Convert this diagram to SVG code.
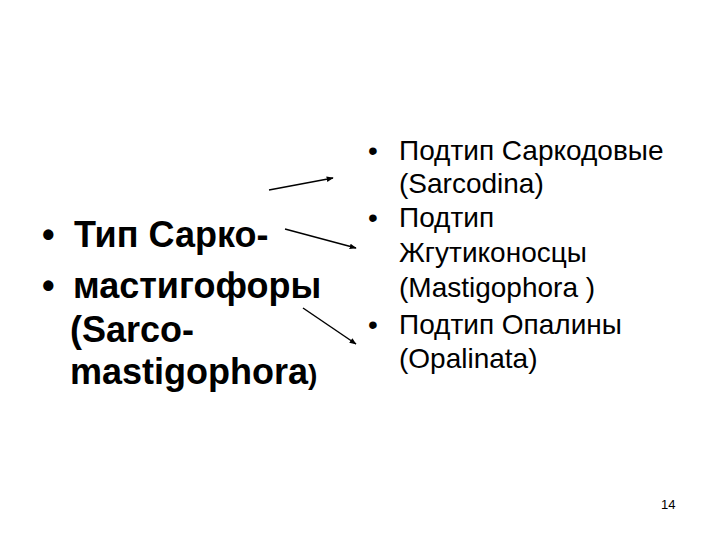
<svg xmlns="http://www.w3.org/2000/svg" width="720" height="540" viewBox="0 0 720 540">
<defs>
<style>
.l{font-family:"Liberation Sans",Arial,sans-serif;font-size:36px;font-weight:bold;fill:#000}
.r{font-family:"Liberation Sans",Arial,sans-serif;font-size:28px;fill:#000}
.c{stroke:#000;stroke-width:1.5;fill:none;marker-end:url(#ah)}
</style>
<marker id="ah" viewBox="0 0 10 10" refX="9" refY="5" markerWidth="7" markerHeight="7" orient="auto" markerUnits="userSpaceOnUse"><path d="M0,1 L10,5 L0,9 z" fill="#000"/></marker>
</defs>
<rect width="720" height="540" fill="#fff"/>
<g id="left">
<text class="l" x="42" y="247">•</text>
<text class="l" x="74" y="247">Тип Сарко-</text>
<text class="l" x="42" y="298">•</text>
<text class="l" x="73" y="298">мастигофоры</text>
<text class="l" x="70" y="342">(Sarco-</text>
<text class="l" x="70" y="384">mastigophora<tspan style="font-size:28px">)</tspan></text>
</g>
<g id="right">
<text class="r" x="368" y="160">•</text>
<text class="r" x="399" y="160">Подтип Саркодовые</text>
<text class="r" x="399" y="193">(Sarcodina)</text>
<text class="r" x="368" y="227">•</text>
<text class="r" x="399" y="227">Подтип</text>
<text class="r" x="399" y="262">Жгутиконосцы</text>
<text class="r" x="399" y="297">(Mastigophora )</text>
<text class="r" x="368" y="334">•</text>
<text class="r" x="399" y="334">Подтип Опалины</text>
<text class="r" x="399" y="368">(Opalinata)</text>
</g>
<g id="connectors">
<line class="c" x1="269" y1="190" x2="333" y2="178"/>
<line class="c" x1="285" y1="229" x2="356" y2="248"/>
<line class="c" x1="303" y1="308" x2="356" y2="344"/>
</g>
<g id="page"><text x="661" y="509" style="font-family:'Liberation Sans',Arial,sans-serif;font-size:13px">14</text></g>
</svg>
